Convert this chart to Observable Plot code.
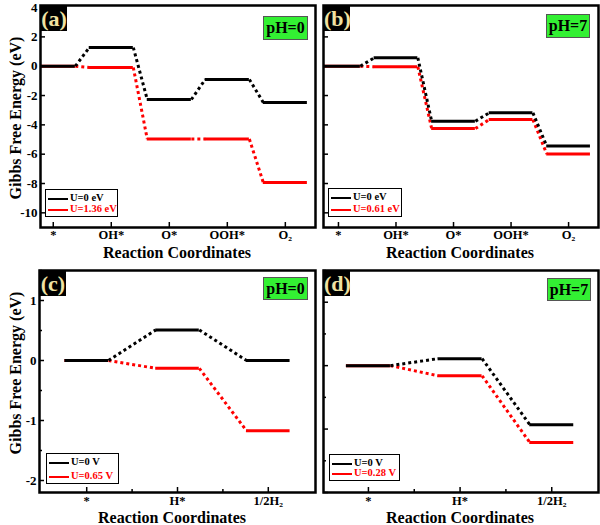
<!DOCTYPE html>
<html><head><meta charset="utf-8">
<script src="https://cdn.jsdelivr.net/npm/d3@7"></script>
<script src="https://cdn.jsdelivr.net/npm/@observablehq/plot@0.6"></script>
<style>
body{margin:0;background:#fff;}
#root{position:relative;width:600px;height:525px;overflow:hidden;background:#fff;font-family:"Liberation Serif","DejaVu Serif",serif;font-weight:bold;}
#root svg{position:absolute;}
.tag{position:absolute;background:#000;color:#f0e2a2;font-size:22px;line-height:25px;height:25px;text-align:center;width:26px;}
.ph{position:absolute;background:#33f033;border:1px solid #555;font-size:16px;line-height:21px;text-align:center;color:#000;}
.legend{position:absolute;border:1px solid #000;background:#fff;font-size:10.5px;box-sizing:border-box;}
.legend .row{position:absolute;left:2px;height:12px;line-height:12px;white-space:nowrap;}
.legend .ln{display:inline-block;width:20px;height:2px;vertical-align:middle;margin-right:2px;}
.title{position:absolute;font-size:16px;line-height:14px;white-space:nowrap;transform:translate(-50%,-50%);}
.ytitle{position:absolute;font-size:16px;line-height:16px;white-space:nowrap;transform:translate(-50%,-50%) rotate(-90deg);}
</style>
</head><body>
<div id="root"></div>
<script>
// ---- data ----
const oerSteps = ["*", "OH*", "O*", "OOH*", "O\u2082"];
const herSteps = ["*", "H*", "1/2H\u2082"];
const oerPH0_U0 = [0, 1.27, -2.27, -0.90, -2.47];
const oerPH0_U  = [0, -0.09, -4.97, -4.97, -7.93];
const oerPH7_U0 = [0, 0.57, -3.75, -3.18, -5.45];
const oerPH7_U  = [0, -0.04, -4.25, -3.64, -5.98];
const herPH0_U0 = [0, 0.51, 0];
const herPH0_U  = [0, -0.13, -1.17];
const herPH7_U0 = [0, 0.11, -0.93];
const herPH7_U  = [0, -0.16, -1.21];
const oerYTicks = [-10, -8, -6, -4, -2, 0, 2, 4];
const herYTicks = [-2, -1, 0, 1];
const herYMinor = [-1.5, -0.5, 0.5, 1.5];
const herXMinor = [1.5, 2.5];
const panelTags = ["(a)", "(b)", "(c)", "(d)"];
const phLabels = ["pH=0", "pH=7", "pH=0", "pH=7"];
const legendLabels = [["U=0 eV", "U=1.36 eV"], ["U=0 eV", "U=0.61 eV"], ["U=0 V", "U=0.65 V"], ["U=0 V", "U=0.28 V"]];
const xTitle = "Reaction Coordinates";
const yTitle = "Gibbs Free Energy (eV)";

const root = document.getElementById("root");

function build(cfg) {
  const {steps, u0, u, xDomain, yDomain, hw, yTicks, yMinor, showY, xMinor, left, top, width, height, ml, mr, mt, mb, pad} = cfg;
  const xs = steps.map((_, i) => i + 1);
  const lv = v => v.map((y, i) => ({x1: i + 1 - hw, x2: i + 1 + hw, y}));
  const cn = v => v.slice(1).map((y, i) => ({x1: i + 1 + hw, y1: v[i], x2: i + 2 - hw, y2: y}));
  const marks = [];
  for (const [v, c] of [[u, "#ff0000"], [u0, "#000000"]]) {
    marks.push(Plot.link(cn(v), {x1: "x1", y1: "y1", x2: "x2", y2: "y2", stroke: c, strokeWidth: 3, strokeDasharray: "3,3", clip: true}));
    marks.push(Plot.ruleY(lv(v), {x1: "x1", x2: "x2", y: "y", stroke: c, strokeWidth: 3, clip: true}));
  }
  marks.push(Plot.axisX({ticks: xs, tickSize: -5, fill: "none", strokeWidth: 1.5}));
  marks.push(Plot.axisX({ticks: xs, tickSize: 0, tickPadding: pad, tickFormat: i => steps[i - 1], label: null, fontSize: 12.5}));
  if (xMinor) marks.push(Plot.axisX({ticks: xMinor, tickSize: -3, fill: "none", strokeWidth: 1.5}));
  marks.push(Plot.axisY({ticks: yTicks, tickSize: -5, fill: "none", strokeWidth: 1.5}));
  if (showY) marks.push(Plot.axisY({ticks: yTicks, tickSize: 0, tickPadding: 3, tickFormat: d => String(d), label: null, fontSize: 13}));
  if (yMinor) marks.push(Plot.axisY({ticks: yMinor, tickSize: -3, fill: "none", strokeWidth: 1.5}));
  marks.push(Plot.frame({strokeWidth: 2.5}));
  const svg = Plot.plot({
    width, height, marginLeft: ml, marginRight: mr, marginTop: mt, marginBottom: mb,
    x: {domain: xDomain}, y: {domain: yDomain},
    style: {fontFamily: "'Liberation Serif', 'DejaVu Serif', serif", fontWeight: "bold", background: "transparent", overflow: "visible", color: "#000"},
    marks
  });
  svg.style.left = left + "px";
  svg.style.top = top + "px";
  root.appendChild(svg);
}

build({steps: oerSteps, u0: oerPH0_U0, u: oerPH0_U, xDomain: [0.78, 5.52], yDomain: [-11, 4.14], hw: 0.38, pad: 3,
  yTicks: oerYTicks, showY: true, left: 0, top: 0, width: 318, height: 245, ml: 40, mr: 3, mt: 5, mb: 18});
build({steps: oerSteps, u0: oerPH7_U0, u: oerPH7_U, xDomain: [0.74, 5.52], yDomain: [-11, 4.14], hw: 0.38, pad: 3,
  yTicks: oerYTicks, showY: false, left: 283, top: 0, width: 318, height: 245, ml: 40, mr: 3, mt: 5, mb: 18});
build({steps: herSteps, u0: herPH0_U0, u: herPH0_U, xDomain: [0.48, 3.52], yDomain: [-2.2, 1.5], hw: 0.24, pad: 4,
  yTicks: herYTicks, yMinor: herYMinor, xMinor: herXMinor, showY: true, left: 0, top: 260, width: 318, height: 262, ml: 39, mr: 3, mt: 10, mb: 30});
build({steps: herSteps, u0: herPH7_U0, u: herPH7_U, xDomain: [0.51, 3.51], yDomain: [-2, 1.5], hw: 0.24, pad: 4,
  yTicks: herYTicks, yMinor: herYMinor, xMinor: herXMinor, showY: false, left: 283, top: 260, width: 318, height: 262, ml: 40, mr: 3, mt: 10, mb: 30});

function el(cls, text, style) {
  const d = document.createElement("div");
  d.className = cls;
  if (text != null) d.textContent = text;
  Object.assign(d.style, style);
  root.appendChild(d);
  return d;
}

const tagPos = [[41, 6], [324, 6], [40, 271], [324, 271]];
const phPos = [[263, 16, 43, 22], [546, 14, 42, 22], [263, 277, 43, 21], [547, 278, 42, 21]];
const legPos = [[45, 189, 73, 28], [328, 188, 74, 29], [46, 453, 73, 31], [329, 454, 71, 27]];
panelTags.forEach((t, i) => el("tag", t, {left: tagPos[i][0] + "px", top: tagPos[i][1] + "px"}));
phLabels.forEach((t, i) => el("ph", t, {left: phPos[i][0] + "px", top: phPos[i][1] + "px", width: phPos[i][2] + "px", height: phPos[i][3] + "px"}));
legendLabels.forEach((labs, i) => {
  const [x, y, w, h] = legPos[i];
  const box = el("legend", null, {left: x + "px", top: y + "px", width: w + "px", height: h + "px"});
  labs.forEach((lab, j) => {
    const row = document.createElement("div");
    row.className = "row";
    row.style.top = (j === 0 ? 2 : h - 15) + "px";
    const color = j === 0 ? "#000" : "#ff0000";
    row.style.color = color;
    const ln = document.createElement("span");
    ln.className = "ln";
    ln.style.background = color;
    row.appendChild(ln);
    row.appendChild(document.createTextNode(lab));
    box.appendChild(row);
  });
});
[[177, 253], [460, 253], [172, 518], [460, 518]].forEach(([x, y]) => el("title", xTitle, {left: x + "px", top: y + "px"}));
[[16, 118], [16, 373]].forEach(([x, y]) => el("ytitle", yTitle, {left: x + "px", top: y + "px"}));
</script>
</body></html>
